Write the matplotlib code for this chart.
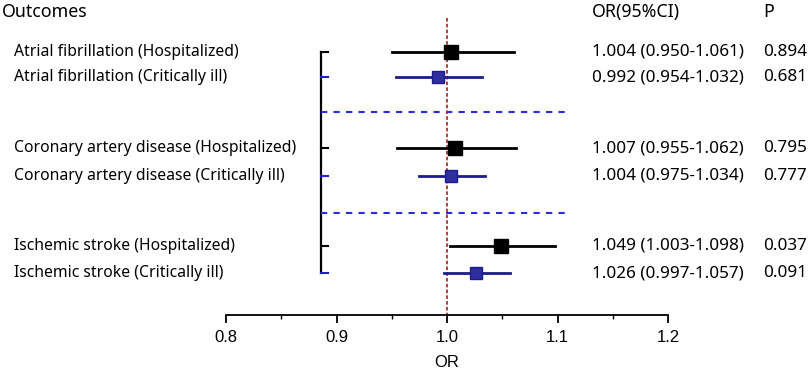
import matplotlib
matplotlib.use("Agg")
import matplotlib.pyplot as plt
from matplotlib.ticker import MultipleLocator

# --- data --- #
outcomes = ['Atrial fibrillation (Hospitalized)', 'Atrial fibrillation (Critically ill)',
            'Coronary artery disease (Hospitalized)', 'Coronary artery disease (Critically ill)',
            'Ischemic stroke (Hospitalized)', 'Ischemic stroke (Critically ill)']
or_val = [1.004, 0.992, 1.007, 1.004, 1.049, 1.026]
ci_low = [0.950, 0.954, 0.955, 0.975, 1.003, 0.997]
ci_high = [1.061, 1.032, 1.062, 1.034, 1.098, 1.057]
p_val = ['0.894', '0.681', '0.795', '0.777', '0.037', '0.091']

# --- layout (pixels) --- #
W, H = 809, 373
row_y = [52, 77, 148, 176, 246, 273]
sep_y = [112, 213]
axis_y = 315
black = '#000000'
navy = '#1c1c8a'
navy_fill = '#2e2ea0'
sepblue = '#2a2ae0'

fig = plt.figure(figsize=(W / 100, H / 100), dpi=100)
ax = fig.add_axes([226 / W, (H - axis_y) / H, (668 - 226) / W, axis_y / H])
ax.set_xlim(0.8, 1.2)
ax.set_ylim(axis_y, 0)
for s in ['left', 'right', 'top']:
    ax.spines[s].set_visible(False)
ax.spines['bottom'].set_linewidth(1.3)
ax.set_yticks([])
ax.xaxis.set_major_locator(MultipleLocator(0.1))
ax.xaxis.set_minor_locator(MultipleLocator(0.05))
ax.set_xticks([0.8, 0.9, 1.0, 1.1, 1.2])
ax.set_xticklabels(['0.8', '0.9', '1.0', '1.1', '1.2'], family='Liberation Sans', fontsize=12)
ax.tick_params(axis='x', which='major', direction='out', length=6, width=1.3, pad=5)
ax.tick_params(axis='x', which='minor', direction='out', length=3, width=1.0)
ax.set_xlabel('OR', family='Liberation Sans', fontsize=12, labelpad=7)
ax.patch.set_alpha(0)

px = 0.4 / 442  # OR units per pixel
xb = 0.886

# reference line
ax.plot([1.0, 1.0], [18, axis_y], color='#b03030', lw=1.3, ls=(0, (2, 1.2)), zorder=2)

# bracket
ax.plot([xb, xb], [row_y[0], row_y[-1]], color=black, lw=1.6, zorder=1)
for i, y in enumerate(row_y):
    c = black if i % 2 == 0 else '#1e1ee0'
    ax.plot([xb, xb + 7 * px], [y, y], color=c, lw=1.5, zorder=1)

# separators
for y in sep_y:
    ax.plot([xb, 1.109], [y, y], color=sepblue, lw=1.5, ls=(0, (3, 3)), zorder=1)

# CIs and points
for i in range(len(outcomes)):
    y = row_y[i]
    if i % 2 == 0:
        ax.plot([ci_low[i], ci_high[i]], [y, y], color=black, lw=2.0, zorder=3)
        ax.plot(or_val[i], y, marker='s', ms=9.5, color=black, mec=black, zorder=4)
    else:
        ax.plot([ci_low[i], ci_high[i]], [y, y], color=navy, lw=2.0, zorder=3)
        ax.plot(or_val[i], y, marker='s', ms=9, color=navy_fill, mec=navy, mew=1, zorder=4)

# text columns
fam = ['Noto Sans', 'DejaVu Sans']
hf = dict(family=fam, fontsize=12.8, va='center')
lf = dict(family=fam, fontsize=11.3, va='center')
nf = dict(family=fam, fontsize=12.3, va='center')
fig.text(2 / W, 1 - 12 / H, 'Outcomes', **hf)
fig.text(592 / W, 1 - 12 / H, 'OR(95%CI)', **hf)
fig.text(763 / W, 1 - 12 / H, 'P', **hf)
for i in range(len(outcomes)):
    y = 1 - row_y[i] / H
    fig.text(14 / W, y, outcomes[i], **lf)
    fig.text(592 / W, y, f'{or_val[i]:.3f} ({ci_low[i]:.3f}-{ci_high[i]:.3f})', **nf)
    fig.text(763 / W, y, p_val[i], **nf)

fig.savefig('out.png', dpi=100)
